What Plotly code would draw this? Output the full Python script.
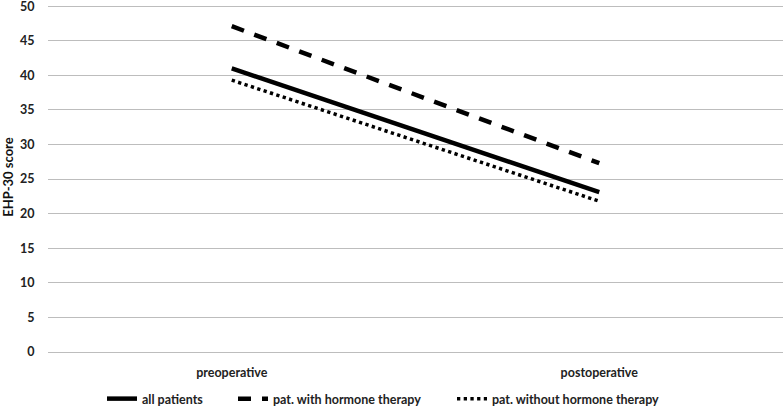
import plotly.graph_objects as go

categories = ["preoperative", "postoperative"]
all_patients = [41.0, 23.1]
with_hormone = [47.1, 27.3]
without_hormone = [39.3, 21.8]
series_names = ["all patients", "pat. with hormone therapy", "pat. without hormone therapy"]

fig = go.Figure()
fig.add_trace(go.Scatter(x=categories, y=all_patients, mode="lines", name=series_names[0],
                         legend="legend",
                         line=dict(color="black", width=4.5)))
fig.add_trace(go.Scatter(x=categories, y=with_hormone, mode="lines", name=series_names[1],
                         legend="legend2",
                         line=dict(color="black", width=4.5, dash="13px,11px")))
fig.add_trace(go.Scatter(x=categories, y=without_hormone, mode="lines", name=series_names[2],
                         legend="legend3",
                         line=dict(color="black", width=3.5, dash="3.3px,3.4px")))

font = "Lato"
legend_font = dict(family=font, size=12.5, color="#222", weight=700)
def leg(xpx):
    return dict(orientation="h", xref="container", yref="container",
                x=xpx / 784, xanchor="left", y=(406 - 399) / 406, yanchor="middle",
                font=legend_font, itemwidth=30, bgcolor="rgba(0,0,0,0)")

fig.update_layout(
    width=784, height=406,
    margin=dict(l=48, r=1, t=1.5, b=54, autoexpand=False),
    paper_bgcolor="white", plot_bgcolor="white",
    font=dict(family=font, size=13, color="#222"),
    showlegend=True,
    legend=leg(102), legend2=leg(233), legend3=leg(452),
    xaxis=dict(type="category", range=[-0.5, 1.5], showgrid=False, zeroline=False,
               showline=False, ticks="outside", tickcolor="white", ticklen=9, automargin=False,
               tickfont=dict(family=font, size=12.5, weight=700, color="#222")),
    yaxis=dict(range=[0, 50.6], tickvals=list(range(0, 51, 5)), showgrid=True,
               gridcolor="#bdbdbd", gridwidth=1.3,
               zeroline=True, zerolinecolor="#bdbdbd", zerolinewidth=1.3, showline=False,
               ticks="outside", tickcolor="white", ticklen=10, automargin=False,
               ticklabeloverflow="allow",
               tickfont=dict(family=font, size=12.5, weight=700, color="#222")),
)
fig.update_yaxes(title=dict(text="EHP-30 score", standoff=8,
                            font=dict(family=font, size=13, weight=700, color="#111")))
fig.write_html("out.html", config={"displayModeBar": False},
               post_script="document.body.style.margin='0px';")
